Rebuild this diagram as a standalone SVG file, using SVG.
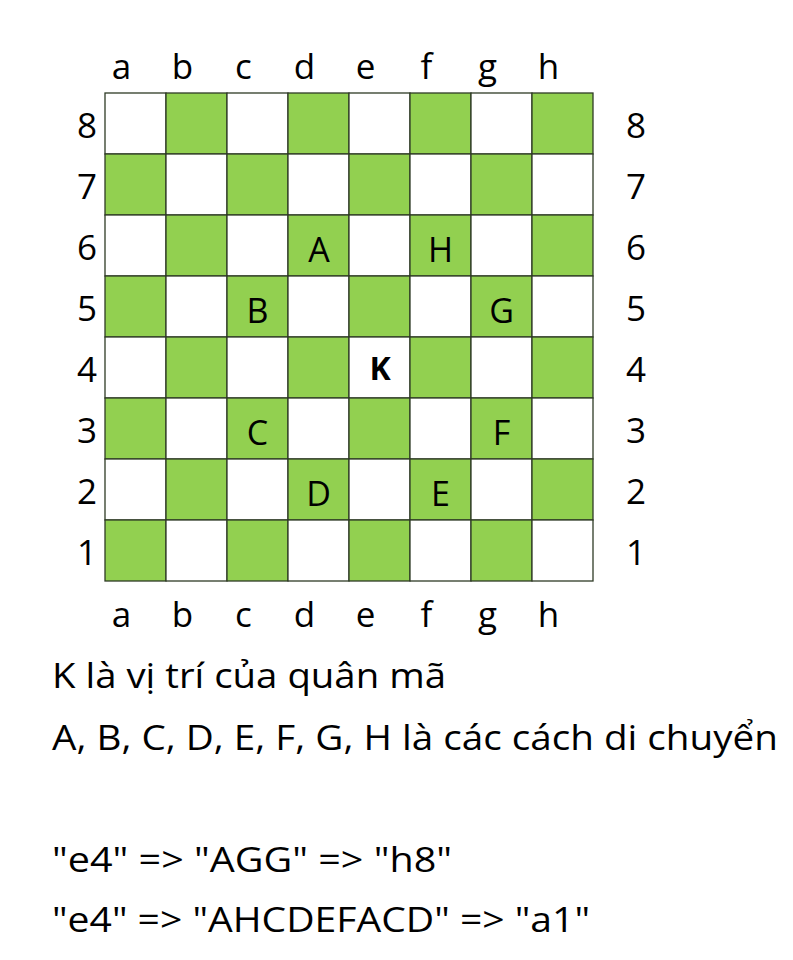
<svg xmlns="http://www.w3.org/2000/svg" width="793" height="960" viewBox="0 0 793 960">
<style>
text{font-family:"Open Sans",Lato,"Liberation Sans",sans-serif;fill:#000}
.ax{font-size:35px;text-anchor:middle}
.pc{font-size:34px;text-anchor:middle}
.kk{font-weight:bold;font-size:32px}
.tx{font-size:35px}
.g{fill:#92D050}
.w{fill:#FFFFFF}
.sq rect{stroke:#2F3B26;stroke-width:1.3}
</style>
<rect width="793" height="960" fill="#FFFFFF"/>
<g id="board" class="sq">
<rect class="w" x="105" y="93" width="61" height="61"/><rect class="g" x="166" y="93" width="61" height="61"/><rect class="w" x="227" y="93" width="61" height="61"/><rect class="g" x="288" y="93" width="61" height="61"/><rect class="w" x="349" y="93" width="61" height="61"/><rect class="g" x="410" y="93" width="61" height="61"/><rect class="w" x="471" y="93" width="61" height="61"/><rect class="g" x="532" y="93" width="61" height="61"/>
<rect class="g" x="105" y="154" width="61" height="61"/><rect class="w" x="166" y="154" width="61" height="61"/><rect class="g" x="227" y="154" width="61" height="61"/><rect class="w" x="288" y="154" width="61" height="61"/><rect class="g" x="349" y="154" width="61" height="61"/><rect class="w" x="410" y="154" width="61" height="61"/><rect class="g" x="471" y="154" width="61" height="61"/><rect class="w" x="532" y="154" width="61" height="61"/>
<rect class="w" x="105" y="215" width="61" height="61"/><rect class="g" x="166" y="215" width="61" height="61"/><rect class="w" x="227" y="215" width="61" height="61"/><rect class="g" x="288" y="215" width="61" height="61"/><rect class="w" x="349" y="215" width="61" height="61"/><rect class="g" x="410" y="215" width="61" height="61"/><rect class="w" x="471" y="215" width="61" height="61"/><rect class="g" x="532" y="215" width="61" height="61"/>
<rect class="g" x="105" y="276" width="61" height="61"/><rect class="w" x="166" y="276" width="61" height="61"/><rect class="g" x="227" y="276" width="61" height="61"/><rect class="w" x="288" y="276" width="61" height="61"/><rect class="g" x="349" y="276" width="61" height="61"/><rect class="w" x="410" y="276" width="61" height="61"/><rect class="g" x="471" y="276" width="61" height="61"/><rect class="w" x="532" y="276" width="61" height="61"/>
<rect class="w" x="105" y="337" width="61" height="61"/><rect class="g" x="166" y="337" width="61" height="61"/><rect class="w" x="227" y="337" width="61" height="61"/><rect class="g" x="288" y="337" width="61" height="61"/><rect class="w" x="349" y="337" width="61" height="61"/><rect class="g" x="410" y="337" width="61" height="61"/><rect class="w" x="471" y="337" width="61" height="61"/><rect class="g" x="532" y="337" width="61" height="61"/>
<rect class="g" x="105" y="398" width="61" height="61"/><rect class="w" x="166" y="398" width="61" height="61"/><rect class="g" x="227" y="398" width="61" height="61"/><rect class="w" x="288" y="398" width="61" height="61"/><rect class="g" x="349" y="398" width="61" height="61"/><rect class="w" x="410" y="398" width="61" height="61"/><rect class="g" x="471" y="398" width="61" height="61"/><rect class="w" x="532" y="398" width="61" height="61"/>
<rect class="w" x="105" y="459" width="61" height="61"/><rect class="g" x="166" y="459" width="61" height="61"/><rect class="w" x="227" y="459" width="61" height="61"/><rect class="g" x="288" y="459" width="61" height="61"/><rect class="w" x="349" y="459" width="61" height="61"/><rect class="g" x="410" y="459" width="61" height="61"/><rect class="w" x="471" y="459" width="61" height="61"/><rect class="g" x="532" y="459" width="61" height="61"/>
<rect class="g" x="105" y="520" width="61" height="61"/><rect class="w" x="166" y="520" width="61" height="61"/><rect class="g" x="227" y="520" width="61" height="61"/><rect class="w" x="288" y="520" width="61" height="61"/><rect class="g" x="349" y="520" width="61" height="61"/><rect class="w" x="410" y="520" width="61" height="61"/><rect class="g" x="471" y="520" width="61" height="61"/><rect class="w" x="532" y="520" width="61" height="61"/>
</g>
<g id="files-top" class="ax">
<text x="121.5" y="79">a</text><text x="182.5" y="79">b</text><text x="243.5" y="79">c</text><text x="304.5" y="79">d</text><text x="365.5" y="79">e</text><text x="426.5" y="79">f</text><text x="487.5" y="79">g</text><text x="548.5" y="79">h</text>
</g>
<g id="files-bottom" class="ax">
<text x="121.5" y="627">a</text><text x="182.5" y="627">b</text><text x="243.5" y="627">c</text><text x="304.5" y="627">d</text><text x="365.5" y="627">e</text><text x="426.5" y="627">f</text><text x="487.5" y="627">g</text><text x="548.5" y="627">h</text>
</g>
<g id="ranks-left" class="ax">
<text x="87" y="138">8</text><text x="87" y="199">7</text><text x="87" y="260">6</text><text x="87" y="321">5</text><text x="87" y="382">4</text><text x="87" y="443">3</text><text x="87" y="504">2</text><text x="87" y="565">1</text>
</g>
<g id="ranks-right" class="ax">
<text x="636" y="138">8</text><text x="636" y="199">7</text><text x="636" y="260">6</text><text x="636" y="321">5</text><text x="636" y="382">4</text><text x="636" y="443">3</text><text x="636" y="504">2</text><text x="636" y="565">1</text>
</g>
<g id="pieces" class="pc">
<g id="A"><text x="319" y="262">A</text></g>
<g id="H"><text x="440.5" y="262">H</text></g>
<g id="B"><text x="257.5" y="323">B</text></g>
<g id="G"><text x="501.5" y="323">G</text></g>
<g id="K"><text class="kk" x="380" y="380">K</text></g>
<g id="C"><text x="257.5" y="445">C</text></g>
<g id="F"><text x="501.5" y="445">F</text></g>
<g id="D"><text x="318.5" y="506">D</text></g>
<g id="E"><text x="440.5" y="506">E</text></g>
</g>
<g id="notes" class="tx">
<text x="52" y="688" textLength="394" lengthAdjust="spacingAndGlyphs">K là vị trí của quân mã</text>
<text x="52" y="750" textLength="726" lengthAdjust="spacingAndGlyphs">A, B, C, D, E, F, G, H là các cách di chuyển</text>
<text x="52" y="872" textLength="400" lengthAdjust="spacingAndGlyphs">"e4" =&gt; "AGG" =&gt; "h8"</text>
<text x="52" y="932" textLength="538" lengthAdjust="spacingAndGlyphs">"e4" =&gt; "AHCDEFACD" =&gt; "a1"</text>
</g>
</svg>
